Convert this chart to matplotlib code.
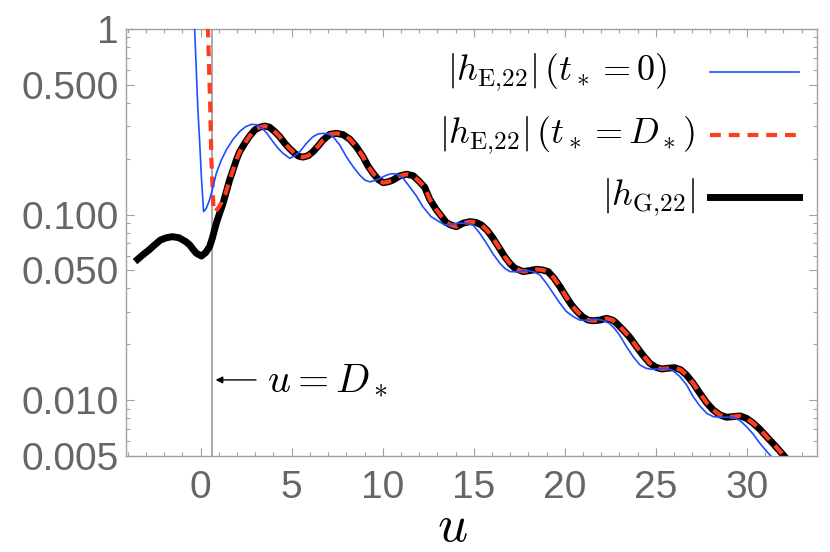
import numpy as np
import matplotlib
matplotlib.use('Agg')
import matplotlib.pyplot as plt
from matplotlib.ticker import FixedLocator, MultipleLocator, LogLocator, NullFormatter

plt.rcParams['font.family'] = ['Liberation Sans', 'DejaVu Sans']
plt.rcParams['mathtext.fontset'] = 'cm'

### |h_G,22| (black, thick)
u_g = [-3.46, -3.2, -2.84, -2.53, -2.2, -1.88, -1.56, -1.19, -0.82, -0.60, -0.46,
       -0.24, 0.04, 0.27, 0.49, 0.64, 0.86, 1.04, 1.23, 1.41, 1.59, 1.78, 1.96, 2.14,
       2.42, 2.69, 2.97, 3.24, 3.52, 3.79, 4.07, 4.34, 4.62, 4.89, 5.16, 5.40, 5.62,
       5.90, 6.17, 6.45, 6.72, 7.09, 7.45, 7.82, 8.19, 8.55, 8.92, 9.19, 9.47, 9.74,
       10.02, 10.29, 10.57, 10.93, 11.30, 11.67, 12.03, 12.31, 12.58, 12.95, 13.5,
       13.77, 14.05, 14.41, 14.78, 15.11, 15.42, 15.75, 16.06, 16.39, 16.70, 16.98,
       17.25, 17.71, 18.08, 18.44, 18.77, 19.08, 19.41, 19.73, 20.05, 20.37, 20.68,
       21.0, 21.28, 21.56, 21.92, 22.29, 22.62, 22.80, 23.2, 23.57, 23.94, 24.30,
       24.67, 25.0, 25.31, 25.68, 26.04, 26.37, 26.68, 27.05, 27.42, 27.78, 28.15,
       28.52, 28.88, 29.25, 29.62, 29.98, 30.35, 30.71, 31.08, 31.54, 31.99, 32.2]
h_g = [0.0574, 0.0604, 0.0644, 0.0686, 0.073, 0.075, 0.076, 0.075, 0.0715, 0.0686,
       0.0658, 0.0619, 0.0598, 0.0623, 0.0671, 0.0745, 0.0898, 0.1016, 0.115, 0.1329,
       0.1536, 0.1739, 0.197, 0.218, 0.242, 0.265, 0.2857, 0.2953, 0.300, 0.2953,
       0.280, 0.263, 0.242, 0.2265, 0.214, 0.206, 0.204, 0.2077, 0.218, 0.234, 0.252,
       0.2707, 0.274, 0.2696, 0.255, 0.232, 0.205, 0.1827, 0.167, 0.155, 0.1486,
       0.150, 0.1536, 0.1614, 0.165, 0.162, 0.150, 0.140, 0.121, 0.106, 0.0904,
       0.0876, 0.0861, 0.0898, 0.0916, 0.0908, 0.0879, 0.0819, 0.0745, 0.0663,
       0.0593, 0.0546, 0.0514, 0.0493, 0.0499, 0.0507, 0.0503, 0.0493, 0.0454,
       0.0409, 0.0364, 0.0326, 0.030, 0.028, 0.027, 0.0268, 0.027, 0.0276, 0.027,
       0.0262, 0.0239, 0.0218, 0.0194, 0.0174, 0.0158, 0.01504, 0.01472, 0.01486,
       0.01496, 0.01455, 0.01367, 0.01233, 0.01089, 0.0097, 0.00885, 0.00832,
       0.00809, 0.00815, 0.00822, 0.00798, 0.00751, 0.00697, 0.00636, 0.00569,
       0.00507, 0.0048]

### |h_E,22| (t_* = 0) (blue)
u_e0 = [-0.38, -0.33, -0.15, -0.05, 0.04, 0.16, 0.31, 0.49, 0.68, 0.86, 1.14, 1.41,
        1.78, 2.14, 2.47, 2.78, 3.06, 3.34, 3.64, 3.97, 4.25, 4.52, 4.89, 5.16, 5.44,
        5.81, 6.17, 6.45, 6.72, 7.0, 7.27, 7.64, 8.0, 8.37, 8.74, 9.01, 9.29, 9.65,
        10.2, 10.48, 10.75, 11.12, 11.48, 11.85, 12.21, 12.40, 12.65, 13.10, 13.41,
        13.81, 14.23, 14.6, 14.96, 15.33, 15.70, 16.06, 16.43, 16.70, 16.98, 17.44,
        17.9, 18.26, 18.63, 18.99, 19.36, 19.73, 20.09, 20.46, 20.82, 21.28, 21.74,
        22.1, 22.47, 22.75, 23.02, 23.39, 23.75, 24.12, 24.45, 24.76, 25.18, 25.59,
        25.95, 26.32, 26.69, 27.05, 27.42, 27.79, 28.15, 28.52, 28.88, 29.25, 29.62,
        29.98, 30.35, 30.71, 30.99, 31.26, 31.45]
h_e0 = [1.3, 1.0, 0.366, 0.242, 0.16, 0.1037, 0.108, 0.12, 0.1413, 0.167, 0.197,
        0.223, 0.2545, 0.28, 0.2976, 0.306, 0.3052, 0.295, 0.274, 0.247, 0.2277,
        0.214, 0.201, 0.207, 0.218, 0.242, 0.263, 0.2717, 0.274, 0.2717, 0.263, 0.237,
        0.205, 0.1813, 0.163, 0.1536, 0.150, 0.1536, 0.163, 0.1661, 0.1655, 0.1568,
        0.141, 0.126, 0.110, 0.1045, 0.0975, 0.0915, 0.0879, 0.0887, 0.0898, 0.0898,
        0.0879, 0.0793, 0.070, 0.0613, 0.0547, 0.0513, 0.0493, 0.0491, 0.0499,
        0.0493, 0.0473, 0.0426, 0.0377, 0.0333, 0.030, 0.0282, 0.0270, 0.0269,
        0.0273, 0.0269, 0.0258, 0.0242, 0.0223, 0.0194, 0.01716, 0.0155, 0.01486,
        0.01467, 0.01472, 0.01486, 0.0144, 0.01339, 0.01208, 0.01044, 0.0093, 0.0085,
        0.00815, 0.00809, 0.00809, 0.00809, 0.00776, 0.0072, 0.00655, 0.00586,
        0.00543, 0.00507, 0.0048]

### |h_E,22| (t_* = D_*) (red dashed): diverging head, then on top of |h_G,22|
u_ed_head = [0.36, 0.40, 0.53, 0.59, 0.71, 0.77, 0.95, 1.15, 1.35]
h_ed_head = [1.3, 1.0, 0.366, 0.197, 0.106, 0.103, 0.108, 0.116, 0.128]

D_star = 0.64

y_ticks = [0.005, 0.01, 0.05, 0.1, 0.5, 1]
y_tick_labels = ['0.005', '0.010', '0.050', '0.100', '0.500', '1']
x_ticks = [0, 5, 10, 15, 20, 25, 30]

label_e0 = r'$|h_{\mathrm{E}{,}22}|\,(t_* = 0)$'
label_ed = r'$|h_{\mathrm{E}{,}22}|\,(t_* = D_*)$'
label_g = r'$|h_{\mathrm{G}{,}22}|$'

col_blue = '#1f4dff'
col_red = '#ff3c1e'
col_frame = '#a0a0a0'
col_text = '#666666'

u_ed = u_ed_head + [u for u in u_g if u > 1.5]
h_ed = h_ed_head + [h for u, h in zip(u_g, h_g) if u > 1.5]

fig = plt.figure(figsize=(8.3, 5.52), dpi=100)
ax = fig.add_axes([126 / 830, 96 / 552, 691 / 830, 427 / 552])

ax.axvline(D_star, color='#999999', lw=1.2, zorder=1)
ax.plot(u_g, h_g, color='black', lw=5.0, solid_joinstyle='round', zorder=2)
ax.plot(u_ed, h_ed, color=col_red, lw=3.0, dashes=(2.6, 1.9), zorder=3)
ax.plot(u_e0, h_e0, color=col_blue, lw=1.2, zorder=4)

ax.set_yscale('log')
ax.set_xlim(-4.1, 33.85)
ax.set_ylim(0.005, 1)

ax.yaxis.set_major_locator(FixedLocator(y_ticks))
ax.set_yticklabels(y_tick_labels)
ax.yaxis.set_minor_locator(LogLocator(base=10, subs=np.arange(2, 10)))
ax.yaxis.set_minor_formatter(NullFormatter())
ax.xaxis.set_major_locator(FixedLocator(x_ticks))
ax.xaxis.set_minor_locator(MultipleLocator(1))

for s in ax.spines.values():
    s.set_color(col_frame)
    s.set_linewidth(1.0)
ax.tick_params(which='both', direction='in', top=True, right=True,
               color=col_frame, width=0.8, labelcolor=col_text, labelsize=28)
ax.tick_params(which='major', length=6)
ax.tick_params(which='minor', length=3)
ax.tick_params(axis='x', which='major', pad=10)
ax.tick_params(axis='y', which='major', pad=5)

fig.text(452 / 830, 1 - 541 / 552, r'$u$', fontsize=38, ha='center', va='baseline')

### annotation for the vertical line
ax.annotate(r'$u = D_*$', xy=(0.82, 0.01285), xytext=(3.65, 0.01285),
            fontsize=29, ha='left', va='center',
            arrowprops=dict(arrowstyle='-|>', color='black', lw=1.0,
                            mutation_scale=10, shrinkA=6, shrinkB=0))

### legend drawn by hand, to keep Mathematica-like placement
rows = [(0.900, label_e0, 0.7829, dict(color=col_blue, lw=1.2)),
        (0.752, label_ed, 0.8234, dict(color=col_red, lw=3.0, dashes=(2.6, 1.9))),
        (0.607, label_g, 0.8234, dict(color='black', lw=5.0))]
for y, lab, xt, style in rows:
    ax.plot([0.845, 0.974], [y, y], transform=ax.transAxes, clip_on=False, **style)
    ax.text(xt, y, lab, transform=ax.transAxes, fontsize=26, ha='right', va='center')

plt.savefig('out.png', dpi=100)
